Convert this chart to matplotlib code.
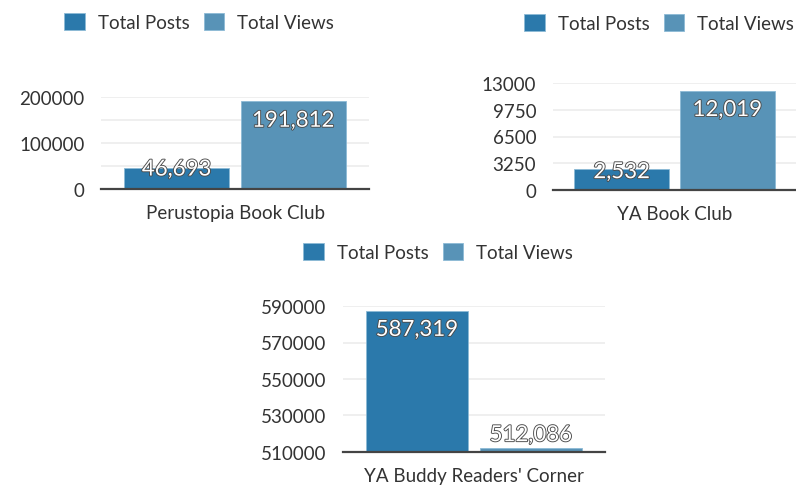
import matplotlib
matplotlib.use("Agg")
import matplotlib.pyplot as plt
import matplotlib.patheffects as pe
import numpy as np

plt.rcParams['font.family'] = ['Lato', 'DejaVu Sans']

series = ['Total Posts', 'Total Views']
colors = ['#2b79ab', '#5893b7']

clubs = ['Perustopia Book Club', 'YA Book Club', "YA Buddy Readers' Corner"]
posts = [46693, 2532, 587319]
views = [191812, 12019, 512086]

yticks = [[0, 100000, 200000],
          [0, 3250, 6500, 9750, 13000],
          [510000, 530000, 550000, 570000, 590000]]
ygrid = [[0, 50000, 100000, 150000, 200000],
         [0, 3250, 6500, 9750, 13000],
         [510000, 530000, 550000, 570000, 590000]]

W, H = 796, 489
fig = plt.figure(figsize=(W / 100, H / 100), dpi=100)

def px_axes(left, right, top, bottom):
    return fig.add_axes([left / W, 1 - bottom / H, (right - left) / W, (bottom - top) / H])

# axes boxes in pixels: left, right, top, bottom
boxes = [(101, 369, 98, 190), (553, 796, 84, 191), (343, 605, 307, 453)]
legend_pos = [(64, 23), (524, 24), (303, 253)]
# label offsets (px) from bar top
label_off = [(-2, -20), (-3, -19), (-19, 13)]

for i in range(3):
    ax = px_axes(*boxes[i])
    vals = [posts[i], views[i]]
    x = np.arange(2)
    bars = ax.bar(x, vals, width=0.9, color=colors, edgecolor='#8cbad6', linewidth=0.6, zorder=3)
    ax.set_xlim(-0.65, 1.65)
    ax.set_ylim(yticks[i][0], yticks[i][-1])
    ax.set_yticks(yticks[i])
    ax.set_yticklabels([str(v) for v in yticks[i]])
    for g in ygrid[i][1:]:
        ax.axhline(g, color='#ececec', lw=1.2, zorder=1)
    ax.set_xticks([0.5])
    ax.set_xticklabels([clubs[i]])
    for s in ['top', 'right', 'left']:
        ax.spines[s].set_visible(False)
    ax.spines['bottom'].set_color('#444444')
    ax.spines['bottom'].set_linewidth(1.6)
    ax.spines['bottom'].set_zorder(4)
    ax.tick_params(axis='both', length=0, labelsize=13.5, colors='#333333')
    ax.tick_params(axis='y', pad=12)
    ax.tick_params(axis='x', pad=11)
    for b, v, off in zip(bars, vals, label_off[i]):
        ax.annotate(f'{v:,}', xy=(b.get_x() + b.get_width() / 2, v),
                    xytext=(0, off * 0.72), textcoords='offset points',
                    ha='center', va='center', fontsize=16, color='white', zorder=5,
                    path_effects=[pe.withStroke(linewidth=1.3, foreground='#4a4a4a')])
    lx, ly = legend_pos[i]
    ax.legend(bars, series, loc='center left', bbox_to_anchor=(lx / W, 1 - ly / H),
              bbox_transform=fig.transFigure, ncol=2, frameon=False, fontsize=13.5,
              handlelength=1.1, handleheight=1.05, handletextpad=0.7,
              columnspacing=0.75, borderpad=0, borderaxespad=0, labelcolor='#333333')

fig.savefig('out.png', dpi=100)
